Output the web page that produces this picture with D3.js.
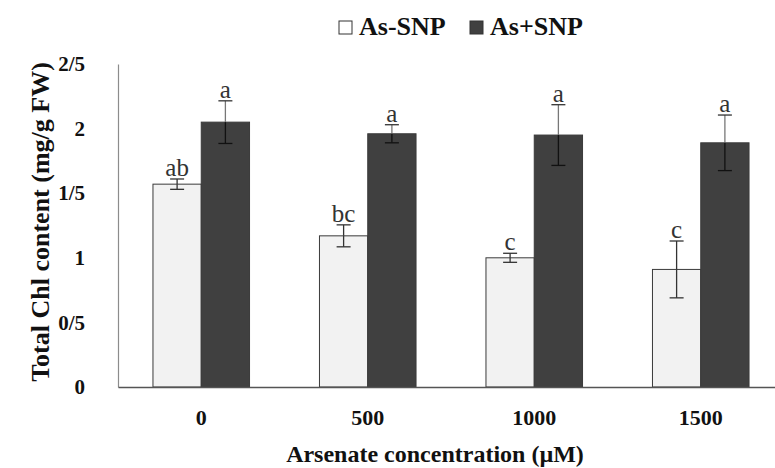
<!DOCTYPE html>
<html>
<head>
<meta charset="utf-8">
<script src="https://cdn.jsdelivr.net/npm/d3@7"></script>
<style>
  body { margin: 0; background: #fff; }
  svg text { font-family: "Liberation Serif", "Times New Roman", serif; }
</style>
</head>
<body>
<div id="chart"></div>
<script>
const concentrations = ["0", "500", "1000", "1500"];
const seriesNames = ["As-SNP", "As+SNP"];
const asMinusSnp = [1.57, 1.17, 1.00, 0.91];
const asPlusSnp = [2.05, 1.96, 1.95, 1.89];
const errMinus = [0.04, 0.085, 0.035, 0.22];
const errPlus = [0.165, 0.07, 0.235, 0.215];
const lettersMinus = ["ab", "bc", "c", "c"];
const lettersPlus = ["a", "a", "a", "a"];
const yTicks = [0, 0.5, 1, 1.5, 2, 2.5];
const yTickLabels = ["0", "0/5", "1", "1/5", "2", "2/5"];

const width = 775;
const height = 468;
const svg = d3.select("#chart").append("svg").attr("width", width).attr("height", height);

const fills = ["#f2f2f2", "#404040"];

const x0 = d3.scaleBand().domain(concentrations).range([118, 784])
  .paddingInner(0.42).paddingOuter(0.21);
const x1 = d3.scaleBand().domain(seriesNames).range([0, x0.bandwidth()]);
const y = d3.scaleLinear().domain([0, 2.5]).range([387, 64]);

const rows = [];
concentrations.forEach((c, i) => {
  rows.push({ c, s: seriesNames[0], v: asMinusSnp[i], e: errMinus[i], l: lettersMinus[i] });
  rows.push({ c, s: seriesNames[1], v: asPlusSnp[i], e: errPlus[i], l: lettersPlus[i] });
});

// y axis
const yAxis = svg.append("g").attr("transform", "translate(118,0)")
  .call(d3.axisLeft(y).tickValues(yTicks).tickSize(0).tickPadding(33)
    .tickFormat((d, i) => yTickLabels[i]));
yAxis.select(".domain").attr("stroke", "#8c8c8c").attr("stroke-width", 1.2);
yAxis.selectAll("text").attr("font-size", 21).attr("font-weight", "bold").attr("fill", "#111");

// bars
svg.append("g").selectAll("rect").data(rows).join("rect")
  .attr("x", d => x0(d.c) + x1(d.s))
  .attr("y", d => y(d.v))
  .attr("width", x1.bandwidth())
  .attr("height", d => y(0) - y(d.v))
  .attr("fill", d => fills[seriesNames.indexOf(d.s)])
  .attr("stroke", "#3a3a3a")
  .attr("stroke-width", 1);

// error bars + significance letters
const eb = svg.append("g").attr("stroke", "#333").attr("stroke-width", 1.3);
rows.forEach(d => {
  const cx = x0(d.c) + x1(d.s) + x1.bandwidth() / 2;
  const hi = y(d.v + d.e), lo = y(d.v - d.e);
  const dark = d.s === seriesNames[1];
  eb.append("line").attr("x1", cx).attr("x2", cx).attr("y1", hi).attr("y2", y(d.v)).attr("stroke", dark ? "#777" : "#333");
  eb.append("line").attr("x1", cx).attr("x2", cx).attr("y1", y(d.v)).attr("y2", lo).attr("stroke", dark ? "#111" : "#333");
  eb.append("line").attr("x1", cx - 7).attr("x2", cx + 7).attr("y1", hi).attr("y2", hi);
  eb.append("line").attr("x1", cx - 7).attr("x2", cx + 7).attr("y1", lo).attr("y2", lo).attr("stroke", dark ? "#111" : "#333");
  svg.append("text").attr("x", cx).attr("y", hi - 3)
    .attr("text-anchor", "middle").attr("font-size", 25).attr("fill", "#333")
    .text(d.l);
});

// x axis
const xAxis = svg.append("g").attr("transform", "translate(0,387)")
  .call(d3.axisBottom(x0).tickSize(0).tickPadding(22));
xAxis.select(".domain").attr("stroke", "#555").attr("stroke-width", 1.3);
xAxis.selectAll("text").attr("font-size", 22).attr("font-weight", "bold").attr("fill", "#111");

// axis titles
svg.append("text").attr("x", 435).attr("y", 462)
  .attr("text-anchor", "middle").attr("font-size", 24).attr("font-weight", "bold").attr("fill", "#111")
  .text("Arsenate concentration (µM)");
svg.append("text").attr("transform", "translate(49,222) rotate(-90)")
  .attr("text-anchor", "middle").attr("font-size", 26).attr("font-weight", "bold").attr("fill", "#111")
  .text("Total Chl content (mg/g FW)");

// legend
const legend = svg.append("g");
const legendX = [339, 470];
seriesNames.forEach((s, i) => {
  legend.append("rect").attr("x", legendX[i]).attr("y", 21).attr("width", 13).attr("height", 13)
    .attr("fill", i === 0 ? "#fff" : "#404040").attr("stroke", "#333").attr("stroke-width", 1);
  legend.append("text").attr("x", legendX[i] + 20).attr("y", 35)
    .attr("font-size", 26).attr("font-weight", "bold").attr("fill", "#111").text(s);
});
</script>
</body>
</html>
